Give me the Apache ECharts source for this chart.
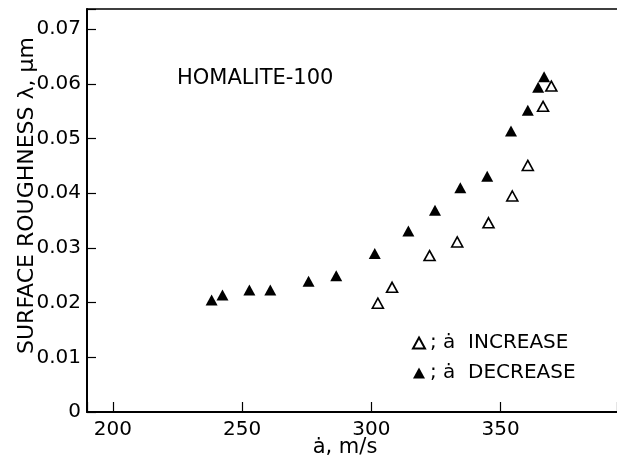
<!DOCTYPE html>
<html>
<head>
<meta charset="utf-8">
<script src="https://cdn.jsdelivr.net/npm/echarts@6/dist/echarts.min.js"></script>
<style>html,body{margin:0;padding:0;background:#fff}#c{width:617px;height:458px}</style>
</head>
<body>
<div id="c"></div>
<script>
// Data
var increaseX = [302.5, 308.0, 322.5, 333.2, 345.3, 354.5, 360.5, 366.4, 369.6];
var increaseY = [0.0199, 0.0228, 0.0286, 0.0311, 0.0346, 0.0395, 0.0451, 0.0559, 0.0596];
var decreaseX = [238.2, 242.4, 252.8, 260.9, 275.7, 286.4, 301.3, 314.3, 324.6, 334.4, 344.8, 354.0, 360.5, 364.5, 366.8];
var decreaseY = [0.0205, 0.0214, 0.0223, 0.0223, 0.0239, 0.0249, 0.0290, 0.0331, 0.0369, 0.0410, 0.0431, 0.0514, 0.0552, 0.0594, 0.0613];
var yTickLabels = ['0', '0.01', '0.02', '0.03', '0.04', '0.05', '0.06', '0.07'];
var xTickLabels = ['200', '250', '300', '350'];

function zip(xs, ys) { return xs.map(function (x, i) { return [x, ys[i]]; }); }

var FONT = 'DejaVu Sans';
var chart = echarts.init(document.getElementById('c'), null, { renderer: 'canvas' });
chart.setOption({
  backgroundColor: '#fff',
  animation: false,
  grid: { left: 87, right: 0, top: 9, bottom: 46, containLabel: false, outerBoundsMode: 'none' },
  xAxis: [{
    type: 'value', min: 190, max: 395,
    name: 'ȧ, m/s', nameLocation: 'middle', nameGap: 25, nameMoveOverlap: false,
    nameTextStyle: { fontFamily: FONT, fontSize: 21, color: '#000', padding: [0, 14, 0, 0] },
    axisLine: { show: true, lineStyle: { color: '#000', width: 2 } },
    axisTick: { show: true, inside: true, length: 10, lineStyle: { color: '#000', width: 1.2 } },
    axisLabel: {
      margin: 8, fontFamily: FONT, fontSize: 20, color: '#000',
      formatter: function (v) { var s = String(Math.round(v)); return (Math.abs(v % 50) < 1e-6 && xTickLabels.indexOf(s) >= 0) ? s : ''; }
    },
    splitLine: { show: false }
  }, {
    type: 'value', min: 190, max: 395, position: 'top',
    axisLine: { show: true, lineStyle: { color: '#000', width: 1.5 } },
    axisTick: { show: false }, axisLabel: { show: false }, splitLine: { show: false }
  }],
  yAxis: {
    type: 'value', min: 0, max: 0.0737, interval: 0.01,
    name: 'SURFACE ROUGHNESS λ, μm', nameLocation: 'middle', nameGap: 49, nameRotate: 90, nameMoveOverlap: false,
    nameTextStyle: { fontFamily: FONT, fontSize: 22, color: '#000', padding: [0, 0, 0, 30] },
    axisLine: { show: true, lineStyle: { color: '#000', width: 2 } },
    axisTick: { show: true, inside: true, length: 9, lineStyle: { color: '#000', width: 1.2 } },
    axisLabel: {
      margin: 6, fontFamily: FONT, fontSize: 20, color: '#000',
      formatter: function (v) { var i = Math.round(v / 0.01); return Math.abs(v - i * 0.01) < 1e-6 ? yTickLabels[i] : ''; }
    },
    splitLine: { show: false }
  },
  legend: {
    orient: 'vertical', left: 407, top: 328, itemGap: 10, itemWidth: 12, itemHeight: 11,
    textStyle: { fontFamily: FONT, fontSize: 20, color: '#000' },
    data: ['increase', 'decrease'],
    formatter: function (n) { return n === 'increase' ? '; ȧ  INCREASE' : '; ȧ  DECREASE'; }
  },
  graphic: [{
    type: 'text', left: 177, top: 68,
    style: { text: 'HOMALITE-100', font: '21px "DejaVu Sans"', fill: '#000' }
  }],
  series: [{
    name: 'decrease', type: 'scatter', symbol: 'triangle', symbolSize: [12, 11],
    itemStyle: { color: '#000', opacity: 1 },
    data: zip(decreaseX, decreaseY), z: 3
  }, {
    name: 'increase', type: 'scatter', symbol: 'triangle', symbolSize: [11, 10],
    itemStyle: { color: '#fff', borderColor: '#000', borderWidth: 1.6, opacity: 1 },
    data: zip(increaseX, increaseY), z: 4
  }]
});
</script>
</body>
</html>
